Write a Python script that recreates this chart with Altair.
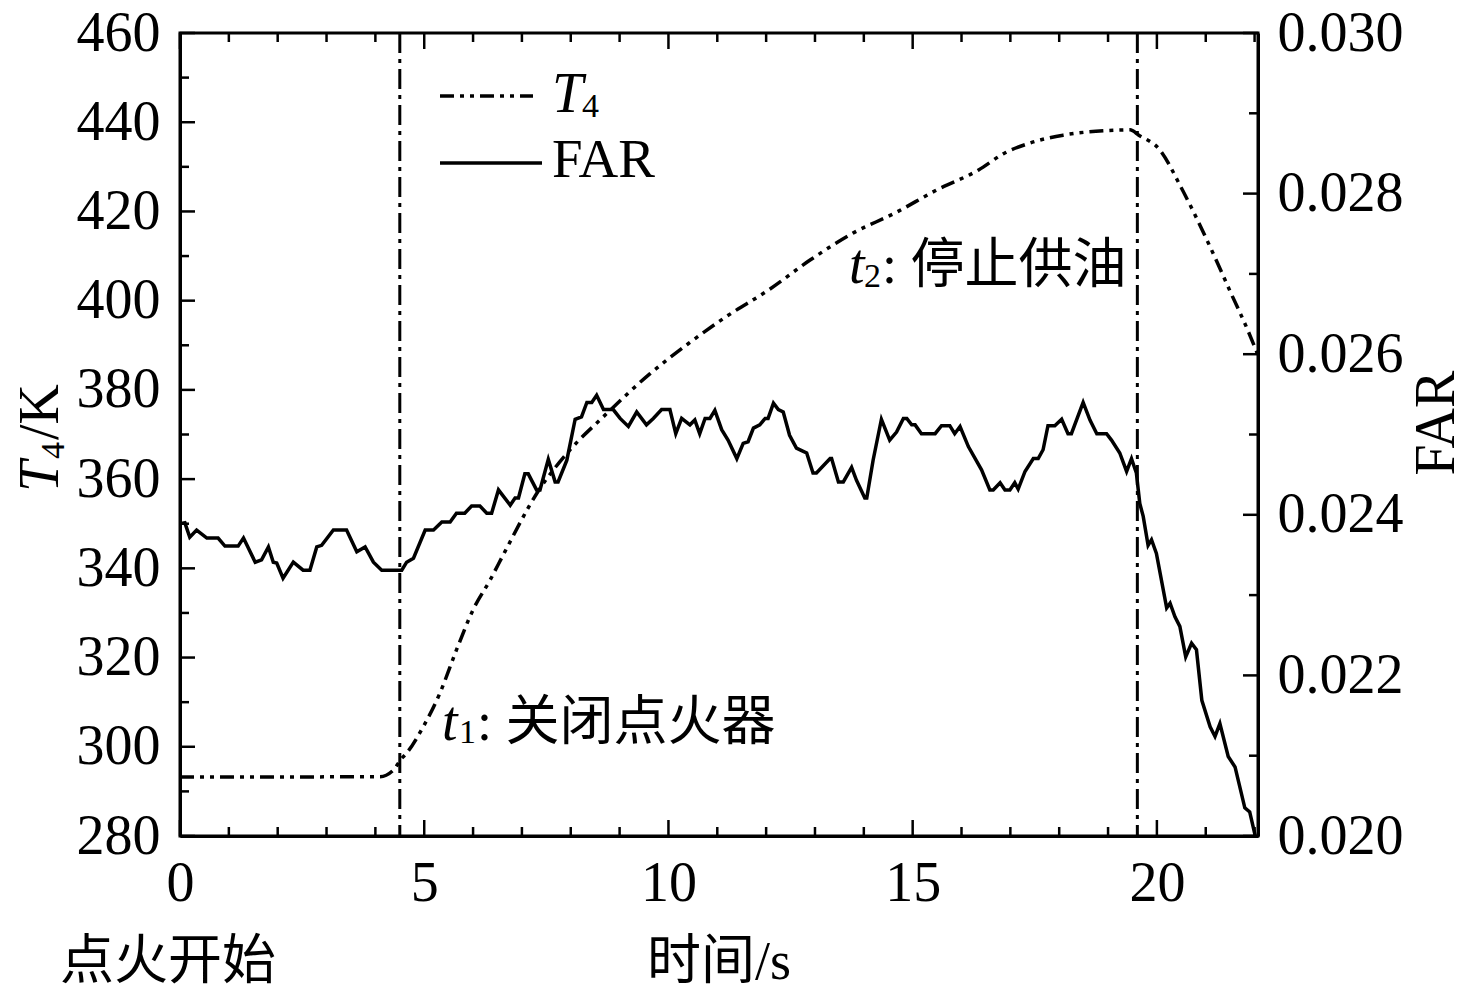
import altair as alt
import pandas as pd

# ---------------- data ----------------
far_t = [0.00, 0.10, 0.20, 0.34, 0.55, 0.78, 0.92, 1.19, 1.30, 1.54,
         1.67, 1.81, 1.91, 1.98, 2.11, 2.32, 2.52, 2.66, 2.80, 2.90,
         3.14, 3.41, 3.62, 3.79, 3.96, 4.13, 4.54, 4.64, 4.78, 5.02,
         5.19, 5.36, 5.53, 5.66, 5.83, 5.97, 6.14, 6.28, 6.38, 6.52,
         6.76, 6.86, 6.93, 7.06, 7.13, 7.30, 7.37, 7.54, 7.68, 7.74,
         7.92, 8.09, 8.22, 8.33, 8.43, 8.53, 8.67, 8.87, 9.01, 9.18,
         9.35, 9.55, 9.69, 9.86, 10.03, 10.15, 10.27, 10.44, 10.54, 10.64,
         10.75, 10.85, 10.95, 11.09, 11.22, 11.40, 11.53, 11.63, 11.74, 11.87,
         11.98, 12.04, 12.15, 12.25, 12.35, 12.48, 12.62, 12.76, 12.83, 12.96,
         13.03, 13.31, 13.34, 13.48, 13.58, 13.75, 13.85, 14.02, 14.06, 14.19,
         14.36, 14.53, 14.67, 14.81, 14.88, 14.98, 15.05, 15.18, 15.46, 15.59,
         15.76, 15.86, 15.97, 16.14, 16.41, 16.58, 16.65, 16.79, 16.89, 16.99,
         17.09, 17.16, 17.30, 17.47, 17.57, 17.67, 17.77, 17.91, 18.05, 18.18,
         18.25, 18.49, 18.63, 18.77, 18.97, 19.07, 19.24, 19.38, 19.48, 19.58,
         19.65, 19.72, 19.82, 19.89, 19.99, 20.20, 20.27, 20.37, 20.47, 20.59,
         20.71, 20.81, 20.92, 21.09, 21.19, 21.29, 21.46, 21.60, 21.80, 21.90,
         22.01]
far_v = [0.02389, 0.02390, 0.02372, 0.02381, 0.02371, 0.02371, 0.02361, 0.02361, 0.02371, 0.02341,
         0.02344, 0.02360, 0.02341, 0.02340, 0.02321, 0.02341, 0.02331, 0.02331, 0.02360, 0.02362,
         0.02381, 0.02381, 0.02354, 0.02360, 0.02341, 0.02331, 0.02331, 0.02341, 0.02346, 0.02381,
         0.02381, 0.02391, 0.02391, 0.02402, 0.02402, 0.02411, 0.02411, 0.02402, 0.02402, 0.02431,
         0.02412, 0.02421, 0.02421, 0.02451, 0.02451, 0.02431, 0.02431, 0.02469, 0.02441, 0.02441,
         0.02468, 0.02519, 0.02522, 0.02540, 0.02540, 0.02549, 0.02531, 0.02531, 0.02520, 0.02510,
         0.02528, 0.02512, 0.02520, 0.02531, 0.02531, 0.02501, 0.02520, 0.02512, 0.02518, 0.02501,
         0.02520, 0.02520, 0.02530, 0.02506, 0.02493, 0.02470, 0.02489, 0.02491, 0.02508, 0.02512,
         0.02520, 0.02520, 0.02539, 0.02531, 0.02528, 0.02499, 0.02483, 0.02479, 0.02477, 0.02452,
         0.02452, 0.02470, 0.02470, 0.02441, 0.02441, 0.02459, 0.02443, 0.02421, 0.02421, 0.02468,
         0.02519, 0.02493, 0.02503, 0.02520, 0.02520, 0.02512, 0.02512, 0.02501, 0.02501, 0.02511,
         0.02511, 0.02501, 0.02510, 0.02485, 0.02456, 0.02431, 0.02431, 0.02440, 0.02431, 0.02431,
         0.02440, 0.02432, 0.02454, 0.02470, 0.02470, 0.02481, 0.02511, 0.02511, 0.02519, 0.02501,
         0.02501, 0.02540, 0.02518, 0.02501, 0.02501, 0.02493, 0.02477, 0.02454, 0.02470, 0.02452,
         0.02414, 0.02398, 0.02362, 0.02369, 0.02352, 0.02284, 0.02290, 0.02273, 0.02261, 0.02223,
         0.02240, 0.02232, 0.02169, 0.02136, 0.02124, 0.02140, 0.02099, 0.02086, 0.02035, 0.02030,
         0.02001]

t4_t = [0.00, 4.09, 4.37, 4.54, 4.61, 4.98, 5.32, 5.66, 6.00, 6.35,
        6.65, 7.31, 7.98, 8.66, 9.63, 10.41, 11.18, 12.05, 12.90, 13.77,
        14.63, 15.49, 16.35, 16.87, 17.39, 18.08, 18.94, 19.45, 19.63, 20.06,
        20.49, 20.83, 21.18, 21.52, 21.86, 22.07]
t4_v = [293.2, 293.3, 294.8, 297.4, 298.2, 304.5, 312.0, 321.7, 330.7, 337.4,
        343.7, 356.9, 366.5, 373.9, 383.7, 390.4, 396.4, 402.4, 409.1, 415.1,
        419.6, 424.8, 429.3, 433.0, 435.3, 437.1, 438.1, 438.3, 437.1, 433.8,
        425.5, 418.1, 409.9, 401.6, 393.4, 387.8]

event_t = [4.5, 19.6]

x_major = [0, 5, 10, 15, 20]
x_minor = [1, 2, 3, 4, 6, 7, 8, 9, 11, 12, 13, 14, 16, 17, 18, 19, 21, 22]
t4_major = [280, 300, 320, 340, 360, 380, 400, 420, 440, 460]
t4_minor = [290, 310, 330, 350, 370, 390, 410, 430, 450]
far_major = [0.020, 0.022, 0.024, 0.026, 0.028, 0.030]
far_minor = [0.021, 0.023, 0.025, 0.027, 0.029]

# ---------------- styling ----------------
W, H = 1078, 803
SERIF = "Liberation Serif"
MIX = "Liberation Serif, Noto Sans CJK SC"
NUM = 56
T4DASH = [14, 6, 4, 6, 4, 6]
VDASH = [20, 6, 4, 6]

xscale = alt.Scale(domain=[0, 22.07], nice=False, zero=False)
xaxis = alt.Axis(values=x_major, labelFont=SERIF, labelFontSize=NUM, labelColor="black",
                 labelPadding=20, ticks=False, domainColor="black", domainWidth=3,
                 grid=False, title=None, labelFlush=False, labelOverlap=False)

t4scale = alt.Scale(domain=[280, 460], nice=False, zero=False)
t4axis = alt.Axis(values=t4_major, orient="left", labelFont=SERIF, labelFontSize=NUM,
                  labelColor="black", labelPadding=20, ticks=False, domainColor="black",
                  domainWidth=3, grid=False, title=None, labelFlush=False, labelOverlap=False)

farscale = alt.Scale(domain=[0.020, 0.030], nice=False, zero=False)
faraxis = alt.Axis(values=far_major, orient="right", format=".3f", labelFont=SERIF,
                   labelFontSize=NUM, labelColor="black", labelPadding=19, ticks=False,
                   domainColor="black", domainWidth=3, grid=False, title=None,
                   labelFlush=False, labelOverlap=False)


def X(field):
    return alt.X(field, type="quantitative", scale=xscale, axis=xaxis)


def YT():
    return alt.Y("v", type="quantitative", scale=t4scale, axis=t4axis)


def YF():
    return alt.Y("f", type="quantitative", scale=farscale, axis=faraxis)


one = pd.DataFrame({"a": [0]})

t4_df = pd.DataFrame({"t": t4_t, "v": t4_v})
far_df = pd.DataFrame({"t": far_t, "f": far_v})

t4_line = alt.Chart(t4_df).mark_line(
    color="black", strokeWidth=3.5, strokeDash=T4DASH, interpolate="monotone"
).encode(x=X("t"), y=YT())

far_line = alt.Chart(far_df).mark_line(color="black", strokeWidth=3.5).encode(
    x=X("t"), y=YF())

vlines = alt.Chart(pd.DataFrame({"t": event_t})).mark_rule(
    color="black", strokeWidth=3, strokeDash=VDASH
).encode(x=X("t"), y=alt.value(0), y2=alt.value(H))


def xticks(vals, length):
    d = pd.DataFrame({"t": vals})
    bot = alt.Chart(d).mark_rule(color="black", strokeWidth=2.5).encode(
        x=X("t"), y=alt.value(H), y2=alt.value(H - length))
    top = alt.Chart(d).mark_rule(color="black", strokeWidth=2.5).encode(
        x=X("t"), y=alt.value(0), y2=alt.value(length))
    return [bot, top]


def lticks(vals, length):
    d = pd.DataFrame({"v": vals})
    return alt.Chart(d).mark_rule(color="black", strokeWidth=2.5).encode(
        y=YT(), x=alt.value(0), x2=alt.value(length))


def rticks(vals, length):
    d = pd.DataFrame({"f": vals})
    return alt.Chart(d).mark_rule(color="black", strokeWidth=2.5).encode(
        y=YF(), x=alt.value(W), x2=alt.value(W - length))


def txt(text, x, y, size, font=MIX, style="normal", align="left", angle=0,
        baseline="alphabetic"):
    kw = dict(text=text, font=font, fontSize=size, fontStyle=style, align=align,
              baseline=baseline, color="black")
    if angle:
        kw["angle"] = angle
    return alt.Chart(one).mark_text(**kw).encode(x=alt.value(x), y=alt.value(y))


# legend samples
leg_t4 = alt.Chart(one).mark_rule(color="black", strokeWidth=3.5,
                                  strokeDash=T4DASH).encode(
    x=alt.value(260), x2=alt.value(353), y=alt.value(63))
leg_far = alt.Chart(one).mark_rule(color="black", strokeWidth=3.5).encode(
    x=alt.value(260), x2=alt.value(362), y=alt.value(130))

texts = [
    # legend
    txt("T", 372, 79, 56, font=SERIF, style="italic"),
    txt("4", 402, 84, 34, font=SERIF),
    txt("FAR", 372, 144, 55, font=SERIF),
    # t1 annotation
    txt("t", 262, 707, 56, font=SERIF, style="italic"),
    txt("1", 279, 710, 34, font=SERIF),
    txt(": 关闭点火器", 297, 707, 54),
    # t2 annotation
    txt("t", 669, 250, 56, font=SERIF, style="italic"),
    txt("2", 684, 254, 34, font=SERIF),
    txt(": 停止供油", 702, 250, 54),
    # bottom texts (kept inside the drawing area)
    txt("点火开始", -120, 946, 54),
    txt("时间/s", W / 2, 946, 54, align="center"),
    # left axis title
    txt("T", -122, 459, 56, font=SERIF, style="italic", angle=270),
    txt("4", -116, 426, 34, font=SERIF, angle=270),
    txt("/K", -122, 407, 56, font=SERIF, angle=270),
    # right axis title
    txt("FAR", 1274, 390, 56, font=SERIF, angle=270, align="center"),
]

t4_group = alt.layer(
    t4_line, vlines,
    *xticks(x_major, 16), *xticks(x_minor, 9),
    lticks(t4_major, 15), lticks(t4_minor, 9),
    leg_t4, leg_far, *texts,
)
far_group = alt.layer(far_line, rticks(far_major, 15), rticks(far_minor, 9))

chart = alt.layer(t4_group, far_group).resolve_scale(y="independent").properties(
    width=W, height=H,
    padding={"left": 172, "top": 25, "right": 210, "bottom": 160},
    autosize=alt.AutoSizeParams(type="none"),
    background="white",
).configure_view(stroke="black", strokeWidth=3)

chart.save("out.html", embed_options={"renderer": "svg", "actions": False})
